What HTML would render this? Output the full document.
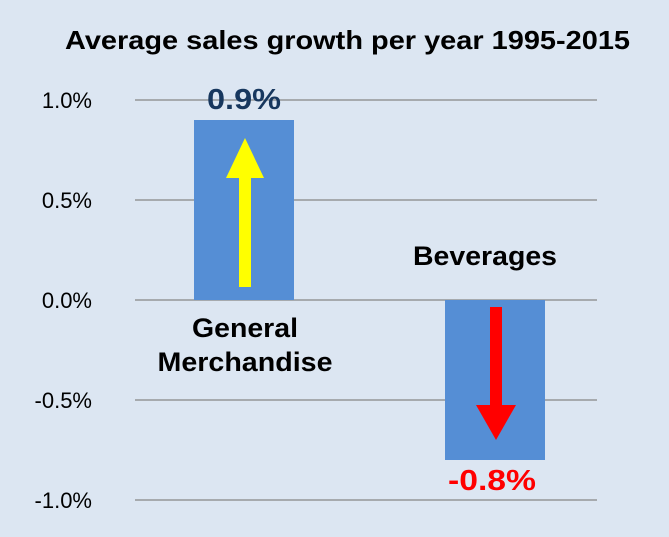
<!DOCTYPE html>
<html><head><meta charset="utf-8"><style>
html,body{margin:0;padding:0;background:#dce6f2;}
svg{display:block;font-family:"Liberation Sans",Arial,sans-serif;}
</style></head><body>
<svg width="669" height="537" viewBox="0 0 669 537">
<rect x="0" y="0" width="669" height="537" fill="#dce6f2"/>
<text x="65" y="49" font-size="26" font-weight="bold" fill="#000" textLength="565" lengthAdjust="spacingAndGlyphs">Average sales growth per year 1995-2015</text>
<g id="grid"></g><g id="bars"></g><g id="labels"></g>
</svg>
<script>
const categories=["General Merchandise","Beverages"];
const values=[0.9,-0.8];
const ticks=[1.0,0.5,0.0,-0.5,-1.0];
const tickLabels=["1.0%","0.5%","0.0%","-0.5%","-1.0%"];
const valueLabels=["0.9%","-0.8%"];
const NS="http://www.w3.org/2000/svg";
const x0=135,x1=597,yTop=100,yBot=500;
function y(v){return yTop+(1.0-v)/2.0*(yBot-yTop);}
function bandX(i){return 194+251*i;}
function mk(t,a,p){const e=document.createElementNS(NS,t);for(const k in a)e.setAttribute(k,a[k]);p.appendChild(e);return e;}
const grid=document.getElementById('grid'),bars=document.getElementById('bars'),labels=document.getElementById('labels');
ticks.forEach((t,i)=>{
  const l=mk('line',{x1:x0,x2:x1,y1:y(t),y2:y(t),stroke:'#868686','stroke-width':1.3},grid);
  
  
  const tx=mk('text',{x:92,y:y(t)+8,'text-anchor':'end','font-size':22,fill:'#000'},grid);
  tx.textContent=tickLabels[i];
  
  
});
values.forEach((v,i)=>{
  const bx=bandX(i),top=y(Math.max(v,0)),bot=y(Math.min(v,0));
  const r=mk('rect',{x:bx,y:top,width:100,height:bot-top,fill:'#558ed5'},bars);
  
  
  const cx=bx+51;
  let pts;
  if(v>=0){const tp=top+18,hb=top+58,sb=bot-13;
    pts=[[cx-6,sb],[cx-6,hb],[cx-19,hb],[cx,tp],[cx+19,hb],[cx+6,hb],[cx+6,sb]];
  }else{const tp=top+7,hb=bot-55,tip=bot-20;
    pts=[[cx-6,tp],[cx-6,hb],[cx-20,hb],[cx,tip],[cx+20,hb],[cx+6,hb],[cx+6,tp]];
  }
  const a=mk('polygon',{points:pts.map(p=>p.join(',')).join(' '),fill:v>=0?'#ffff00':'#ff0000'},bars);
  
  
  const vl=mk('text',{x:v>=0?cx-1:cx-4,y:v>=0?top-11:bot+30,'text-anchor':'middle','font-size':29,'font-weight':'bold',fill:v>=0?'#17375e':'#ff0000',textLength:v>=0?74:88,lengthAdjust:'spacingAndGlyphs'},labels);
  vl.textContent=valueLabels[i];
  
  
});
const c1=mk('text',{x:245,y:337,'text-anchor':'middle','font-size':27,'font-weight':'bold',fill:'#000',textLength:106,lengthAdjust:'spacingAndGlyphs'},labels);
c1.textContent="General";


const c1b=mk('text',{x:245,y:371,'text-anchor':'middle','font-size':27,'font-weight':'bold',fill:'#000',textLength:175,lengthAdjust:'spacingAndGlyphs'},labels);
c1b.textContent="Merchandise";


const c2=mk('text',{x:485,y:265,'text-anchor':'middle','font-size':27,'font-weight':'bold',fill:'#000',textLength:144,lengthAdjust:'spacingAndGlyphs'},labels);
c2.textContent="Beverages";


</script>
</body></html>
